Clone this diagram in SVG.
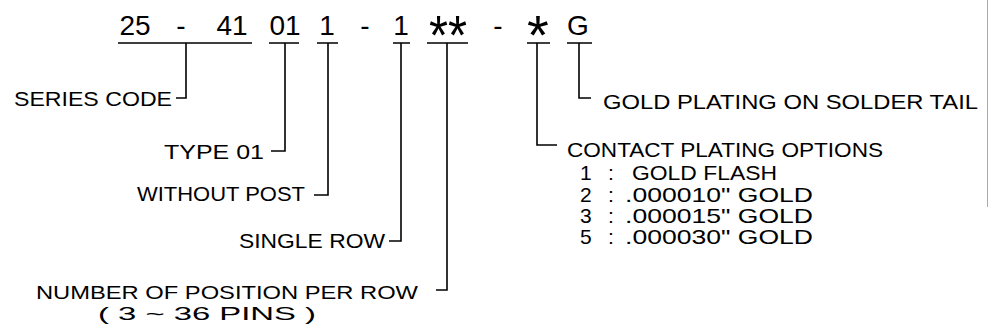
<svg xmlns="http://www.w3.org/2000/svg" width="989" height="336" viewBox="0 0 989 336">
<style>
  text { font-family: "Liberation Sans", Arial, sans-serif; fill: #000; }
  .code { font-size: 28px; text-anchor: middle; }
  .star { font-size: 56px; text-anchor: middle; }
  .lbl { font-size: 21px; }
  .lbs { font-size: 19px; }
  .ln { fill: none; stroke: #000; stroke-width: 1.6; }
</style>
<rect width="989" height="336" fill="#fff"/>
<g id="code">
  <text class="code" x="135" y="35">25</text>
  <text class="code" x="181" y="35">-</text>
  <text class="code" x="232" y="35">41</text>
  <text class="code" x="285" y="35">01</text>
  <text class="code" x="327" y="35">1</text>
  <text class="code" x="365" y="35">-</text>
  <text class="code" x="401" y="35">1</text>
  <text class="star" x="448" y="54" textLength="38" lengthAdjust="spacingAndGlyphs">**</text>
  <text class="code" x="498" y="35">-</text>
  <text class="star" x="538" y="54">*</text>
  <text class="code" x="578" y="35">G</text>
</g>
<g id="connectors">
  <path class="ln" d="M118 43H252 M269 43H299 M317 43H338 M393 43H410 M427 43H468 M527 43H550 M567 43H592"/>
  <polyline class="ln" points="186,43 186,98 176,98"/>
  <polyline class="ln" points="285,43 285,151 271,151"/>
  <polyline class="ln" points="328,43 328,195 314,195"/>
  <polyline class="ln" points="401,43 401,241 389,241"/>
  <polyline class="ln" points="447,43 447,290 436,290"/>
  <polyline class="ln" points="537,43 537,145 557,145"/>
  <polyline class="ln" points="579,43 579,98 591,98"/>
</g>
<g id="series-code"><text class="lbl" x="14" y="106" textLength="158" lengthAdjust="spacingAndGlyphs">SERIES CODE</text></g>
<g id="type-01"><text class="lbl" x="164" y="159" textLength="100" lengthAdjust="spacingAndGlyphs">TYPE 01</text></g>
<g id="without-post"><text class="lbl" x="137" y="201" textLength="168" lengthAdjust="spacingAndGlyphs">WITHOUT POST</text></g>
<g id="single-row"><text class="lbl" x="239" y="248" textLength="146" lengthAdjust="spacingAndGlyphs">SINGLE ROW</text></g>
<g id="positions">
  <text class="lbs" x="36" y="299" textLength="382" lengthAdjust="spacingAndGlyphs">NUMBER OF POSITION PER ROW</text>
  <text class="lbs" x="98" y="320" textLength="218" lengthAdjust="spacingAndGlyphs">( 3 ~ 36 PINS )</text>
</g>
<g id="gold-tail"><text class="lbl" x="603" y="109" textLength="375" lengthAdjust="spacingAndGlyphs">GOLD PLATING ON SOLDER TAIL</text></g>
<g id="contact-plating">
  <text class="lbl" x="567" y="157" textLength="316" lengthAdjust="spacingAndGlyphs">CONTACT PLATING OPTIONS</text>
  <text class="lbl" y="180"><tspan x="580">1</tspan><tspan x="608">:</tspan><tspan x="632" textLength="145" lengthAdjust="spacingAndGlyphs">GOLD FLASH</tspan></text>
  <text class="lbl" y="202"><tspan x="580">2</tspan><tspan x="608">:</tspan><tspan x="625" textLength="188" lengthAdjust="spacingAndGlyphs">.000010" GOLD</tspan></text>
  <text class="lbl" y="223"><tspan x="580">3</tspan><tspan x="608">:</tspan><tspan x="625" textLength="188" lengthAdjust="spacingAndGlyphs">.000015" GOLD</tspan></text>
  <text class="lbl" y="244"><tspan x="580">5</tspan><tspan x="608">:</tspan><tspan x="625" textLength="188" lengthAdjust="spacingAndGlyphs">.000030" GOLD</tspan></text>
</g>
<line x1="987.5" y1="0" x2="987.5" y2="207" stroke="#aaa" stroke-width="1"/>
</svg>
